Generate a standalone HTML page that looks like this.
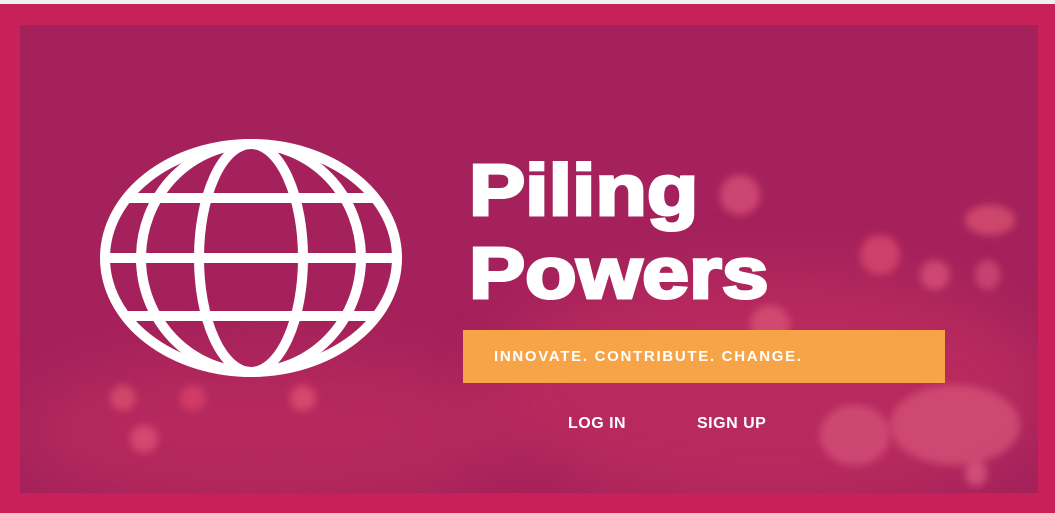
<!DOCTYPE html>
<html><head><meta charset="utf-8"><style>
html,body{margin:0;padding:0;width:1055px;height:513px;overflow:hidden;background:#eef0f2;font-family:"Liberation Sans",sans-serif}
#frame{position:absolute;left:0;top:4px;width:1055px;height:509px;background:#c8215a}
#inner{position:absolute;left:20px;top:25px;width:1018px;height:468px;background:#a5215b;overflow:hidden}
.b{position:absolute;border-radius:50%;filter:blur(4px);opacity:0.8}
#title{position:absolute;left:469px;top:150px;color:#fff;font-weight:bold;font-size:72px;line-height:83px;-webkit-text-stroke:3px #fff;transform:scaleX(1.17);transform-origin:left top;white-space:nowrap}
#tag{position:absolute;left:463px;top:330px;width:482px;height:53px;background:#f7a448}
#tag span{position:absolute;left:31px;top:18px;color:#fff;font-weight:bold;font-size:15px;letter-spacing:1.7px}
.nav{position:absolute;top:415px;color:#fff;font-weight:bold;font-size:16px;letter-spacing:0.5px}
</style></head><body>
<div id="frame"></div>
<div id="inner">
<div class="b" style="left:470px;top:250px;width:560px;height:230px;background:rgba(220,60,100,0.35);filter:blur(30px);opacity:1"></div>
<div class="b" style="left:0;top:330px;width:500px;height:150px;background:rgba(220,60,100,0.3);filter:blur(30px);opacity:1"></div>
<div class="b" style="left:700px;top:150px;width:40px;height:40px;background:#d84f78"></div>
<div class="b" style="left:945px;top:180px;width:50px;height:30px;background:#d8506f"></div>
<div class="b" style="left:840px;top:210px;width:40px;height:40px;background:#d84870"></div>
<div class="b" style="left:900px;top:235px;width:30px;height:30px;background:#d84f78"></div>
<div class="b" style="left:955px;top:235px;width:25px;height:30px;background:#d04a74"></div>
<div class="b" style="left:730px;top:280px;width:40px;height:40px;background:#d85075"></div>
<div class="b" style="left:800px;top:380px;width:70px;height:60px;background:#d44f78"></div>
<div class="b" style="left:870px;top:360px;width:130px;height:80px;background:#d45078"></div>
<div class="b" style="left:90px;top:360px;width:26px;height:26px;background:#d84e6e"></div>
<div class="b" style="left:160px;top:360px;width:26px;height:26px;background:#d8406a"></div>
<div class="b" style="left:270px;top:360px;width:26px;height:26px;background:#e04e70"></div>
<div class="b" style="left:110px;top:400px;width:28px;height:28px;background:#dd4f74"></div>
<div class="b" style="left:945px;top:435px;width:22px;height:26px;background:#d8587e"></div>
</div>
<svg width="1055" height="513" style="position:absolute;left:0;top:0">
<g fill="none" stroke="#fff" stroke-width="10">
<ellipse cx="251" cy="258" rx="146" ry="114"/>
<ellipse cx="251" cy="258" rx="52" ry="114"/>
<ellipse cx="251" cy="258" rx="110" ry="114"/>
<line x1="128" y1="198" x2="374" y2="198"/>
<line x1="105" y1="258" x2="397" y2="258"/>
<line x1="128" y1="316" x2="374" y2="316"/>
</g></svg>
<div id="title">Piling<br>Powers</div>
<div id="tag"><span>INNOVATE. CONTRIBUTE. CHANGE.</span></div>
<div class="nav" style="left:568px">LOG IN</div>
<div class="nav" style="left:697px">SIGN UP</div>
</body></html>
